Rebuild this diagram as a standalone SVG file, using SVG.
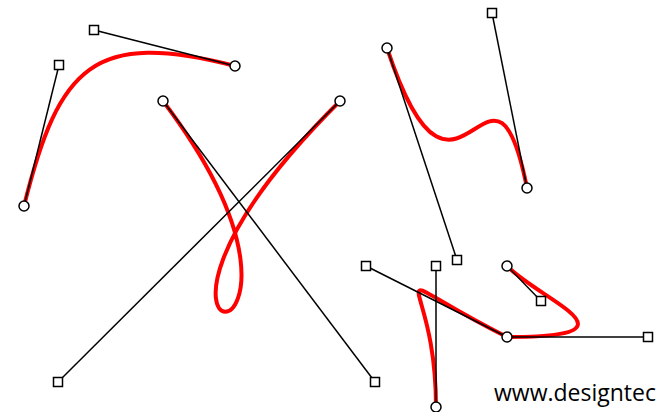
<svg xmlns="http://www.w3.org/2000/svg" width="658" height="412" viewBox="0 0 658 412">
<style>
.curve{fill:none;stroke:#ff0000;stroke-width:4;stroke-linecap:round}
.handle{fill:none;stroke:#000;stroke-width:1.5}
.pt{fill:#fff;stroke:#000;stroke-width:1.5}
.ctl{fill:#fff;stroke:#000;stroke-width:1.5}
.lbl{font-family:"Open Sans","Liberation Sans",sans-serif;font-size:23px;fill:#000}
</style>
<rect width="658" height="412" fill="#fff"/>
<g id="curves">
<path class="curve" d="M24,206 C59,65 94,30 235,66"/>
<path class="curve" d="M163,101 C375,382 58,382 340,101"/>
<path class="curve" d="M387,48 C457,260 492,13 527,188"/>
<path class="curve" d="M436,407 C436,266 366,266 507,337"/>
<path class="curve" d="M507,337 C648,337 541,301 507,266"/>
</g>
<g id="connectors">
<line class="handle" x1="24" y1="206" x2="59" y2="65"/>
<line class="handle" x1="94" y1="30" x2="235" y2="66"/>
<line class="handle" x1="163" y1="101" x2="375" y2="382"/>
<line class="handle" x1="58" y1="382" x2="340" y2="101"/>
<line class="handle" x1="387" y1="48" x2="457" y2="260"/>
<line class="handle" x1="492" y1="13" x2="527" y2="188"/>
<line class="handle" x1="436" y1="407" x2="436" y2="266"/>
<line class="handle" x1="366" y1="266" x2="507" y2="337"/>
<line class="handle" x1="507" y1="337" x2="648" y2="337"/>
<line class="handle" x1="541" y1="301" x2="507" y2="266"/>
</g>
<g id="controls">
<rect class="ctl" x="54.5" y="60.5" width="9" height="9"/>
<rect class="ctl" x="89.5" y="25.5" width="9" height="9"/>
<rect class="ctl" x="370.5" y="377.5" width="9" height="9"/>
<rect class="ctl" x="53.5" y="377.5" width="9" height="9"/>
<rect class="ctl" x="452.5" y="255.5" width="9" height="9"/>
<rect class="ctl" x="487.5" y="8.5" width="9" height="9"/>
<rect class="ctl" x="431.5" y="261.5" width="9" height="9"/>
<rect class="ctl" x="361.5" y="261.5" width="9" height="9"/>
<rect class="ctl" x="643.5" y="332.5" width="9" height="9"/>
<rect class="ctl" x="536.5" y="296.5" width="9" height="9"/>
</g>
<g id="points">
<circle class="pt" cx="24" cy="206" r="5"/>
<circle class="pt" cx="235" cy="66" r="5"/>
<circle class="pt" cx="163" cy="101" r="5"/>
<circle class="pt" cx="340" cy="101" r="5"/>
<circle class="pt" cx="387" cy="48" r="5"/>
<circle class="pt" cx="527" cy="188" r="5"/>
<circle class="pt" cx="436" cy="407" r="5"/>
<circle class="pt" cx="507" cy="337" r="5"/>
<circle class="pt" cx="507" cy="266" r="5"/>
</g>
<text class="lbl" x="494" y="401">www.designtec</text>
</svg>
